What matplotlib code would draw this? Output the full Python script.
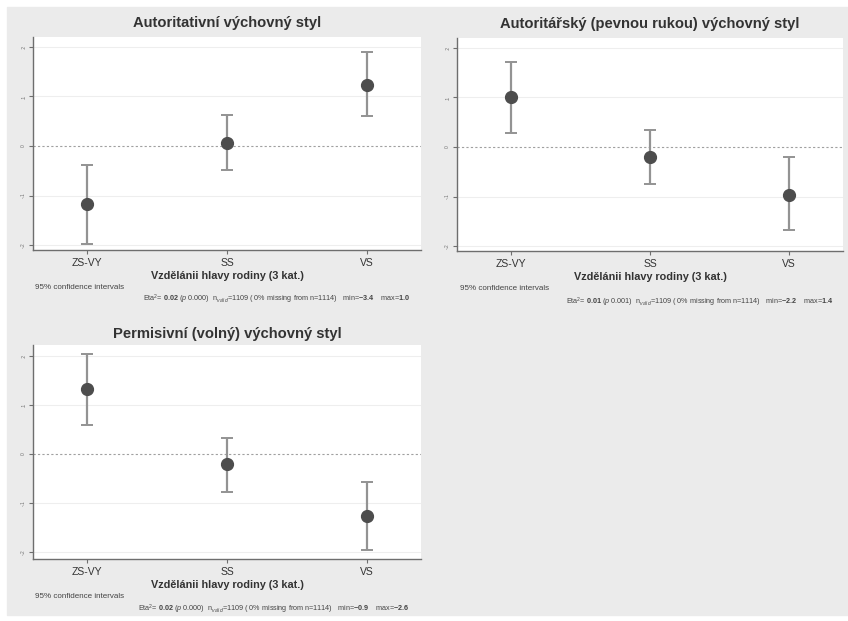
import numpy as np
import matplotlib.pyplot as plt

W, H = 848, 621
BG = "#ebebeb"

categories = ["ZS-VY", "SS", "VS"]
y_ticks = [-0.2, -0.1, 0.0, 0.1, 0.2]
y_tick_labels = ["-.2", "-.1", "0", ".1", ".2"]

# means and 95% CI bounds
auth_mean = [-0.118, 0.006, 0.124]
auth_lo = [-0.198, -0.049, 0.061]
auth_hi = [-0.039, 0.063, 0.190]

autr_mean = [0.100, -0.021, -0.096]
autr_lo = [0.029, -0.075, -0.167]
autr_hi = [0.171, 0.035, -0.020]

perm_mean = [0.132, -0.021, -0.126]
perm_lo = [0.059, -0.077, -0.195]
perm_hi = [0.203, 0.033, -0.057]

titles = ["Autoritativní výchovný styl",
          "Autoritářský (pevnou rukou) výchovný styl",
          "Permisivní (volný) výchovný styl"]
xlabel = "Vzdělánii hlavy rodiny (3 kat.)"
stats = [
    r"Eta$^2$= $\mathbf{0.02}$ ($p$ 0.000)  n$_{valid}$=1109 ( 0% missing from n=1114)   min=$\mathbf{-3.4}$    max=$\mathbf{1.0}$",
    r"Eta$^2$= $\mathbf{0.01}$ ($p$ 0.001)  n$_{valid}$=1109 ( 0% missing from n=1114)   min=$\mathbf{-2.2}$    max=$\mathbf{1.4}$",
    r"Eta$^2$= $\mathbf{0.02}$ ($p$ 0.000)  n$_{valid}$=1109 ( 0% missing from n=1114)   min=$\mathbf{-0.9}$    max=$\mathbf{-2.6}$",
]

plt.rcParams['font.family'] = ['Liberation Sans', 'DejaVu Sans']
plt.rcParams['mathtext.fontset'] = 'custom'
plt.rcParams['mathtext.rm'] = 'Liberation Sans'
plt.rcParams['mathtext.it'] = 'Liberation Sans:italic'
plt.rcParams['mathtext.bf'] = 'Liberation Sans:bold'

fig = plt.figure(figsize=(W / 100, H / 100), dpi=100)
fig.patch.set_facecolor("white")
fig.patches.append(plt.Rectangle((7 / W, 1 - 615 / H), (W - 7) / W, (615 - 7) / H,
                                 transform=fig.transFigure, color=BG, zorder=-10))


def box(x0, y0, x1, y1):
    return [x0 / W, 1 - y1 / H, (x1 - x0) / W, (y1 - y0) / H]


panels = [
    dict(rect=box(33, 37, 421, 250), data=(auth_mean, auth_lo, auth_hi),
         title_y=23, tick_y=263, xlab_y=276, ci=(35, 287), st=(410, 299), ylim=(-0.21, 0.22)),
    dict(rect=box(457, 38, 843, 251), data=(autr_mean, autr_lo, autr_hi),
         title_y=24, tick_y=264, xlab_y=277, ci=(460, 288), st=(834, 302), ylim=(-0.21, 0.22)),
    dict(rect=box(33, 345, 421, 559), data=(perm_mean, perm_lo, perm_hi),
         title_y=334, tick_y=572, xlab_y=585, ci=(35, 597), st=(410, 609), ylim=(-0.214, 0.222)),
]

x = np.arange(1, len(categories) + 1)

for i, p in enumerate(panels):
    ax = fig.add_axes(p["rect"])
    ax.set_facecolor("white")
    mean, lo, hi = [np.array(v) for v in p["data"]]
    for yv in [-0.2, -0.1, 0.1, 0.2]:
        ax.axhline(yv, color="#eeeeee", linewidth=0.8, zorder=1)
    ax.axhline(0, color="#a0a0a0", linewidth=0.8, linestyle=(0, (2, 2)), zorder=1)
    ax.errorbar(x, mean, yerr=[mean - lo, hi - mean], fmt="o", color="#4d4d4d",
                ecolor="#939393", elinewidth=1.6, capsize=4, capthick=1.4,
                markersize=8.5, zorder=3)
    ax.set_xlim(0.61, 3.39)
    ax.set_ylim(*p["ylim"])
    ax.set_yticks(y_ticks)
    ax.set_yticklabels(y_tick_labels, rotation=90, fontsize=3.5, color="#555555",
                       va="center")
    ax.set_xticks(x)
    ax.set_xticklabels([])
    for s in ["top", "right"]:
        ax.spines[s].set_visible(False)
    for s in ["left", "bottom"]:
        ax.spines[s].set_color("#6e6e6e")
        ax.spines[s].set_linewidth(1.0)
    ax.tick_params(colors="#6e6e6e", length=3, width=0.8, pad=2)

    l, b, w, h = p["rect"]
    cx = l + w / 2
    fig.text(cx, 1 - p["title_y"] / H, titles[i], ha="center", va="center",
             fontsize=10.6, fontweight="bold", color="#333333")
    for k, c in enumerate(categories):
        xf = l + w * (x[k] - 0.61) / (3.39 - 0.61)
        fig.text(xf, 1 - p["tick_y"] / H, c, ha="center", va="center",
                 fontsize=7.5, color="#333333")
    fig.text(cx, 1 - p["xlab_y"] / H, xlabel, ha="center", va="center",
             fontsize=7.8, fontweight="bold", color="#333333")
    fig.text(p["ci"][0] / W, 1 - p["ci"][1] / H, "95% confidence intervals",
             ha="left", va="center", fontsize=5.8, color="#444444")
    fig.text(p["st"][0] / W, 1 - p["st"][1] / H, stats[i],
             ha="right", va="center", fontsize=5.2, color="#444444")

fig.savefig("out.png", dpi=100, facecolor=fig.get_facecolor())
